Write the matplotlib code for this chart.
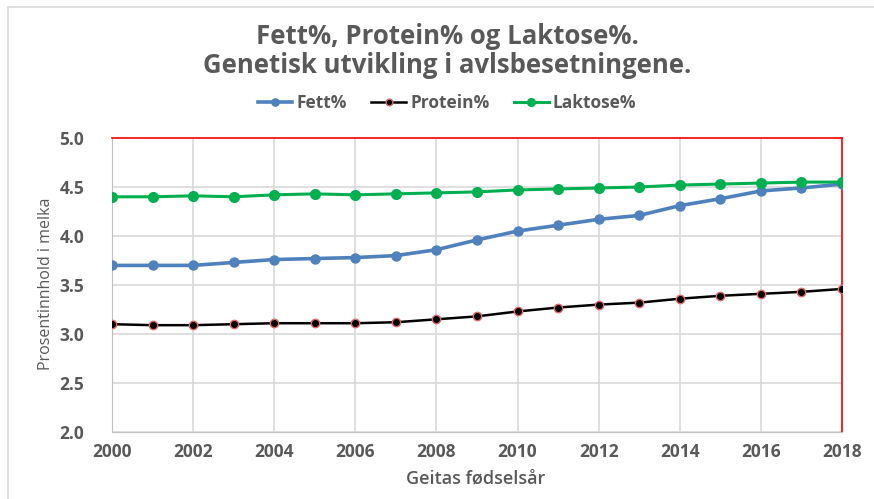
import matplotlib.pyplot as plt
from matplotlib.patches import Rectangle

plt.rcParams['font.family'] = ['Open Sans', 'DejaVu Sans']

# Data
years = list(range(2000, 2019))
fett = [3.70, 3.70, 3.70, 3.73, 3.76, 3.77, 3.78, 3.80, 3.86, 3.96,
        4.05, 4.11, 4.17, 4.21, 4.31, 4.38, 4.46, 4.49, 4.53]
protein = [3.10, 3.09, 3.09, 3.10, 3.11, 3.11, 3.11, 3.12, 3.15, 3.18,
           3.23, 3.27, 3.30, 3.32, 3.36, 3.39, 3.41, 3.43, 3.46]
laktose = [4.40, 4.40, 4.41, 4.40, 4.42, 4.43, 4.42, 4.43, 4.44, 4.45,
           4.47, 4.48, 4.49, 4.50, 4.52, 4.53, 4.54, 4.55, 4.55]
xticks = list(range(2000, 2019, 2))
yticks = [2.0, 2.5, 3.0, 3.5, 4.0, 4.5, 5.0]

grey_txt = '#595959'

fig = plt.figure(figsize=(8.74, 4.99), dpi=100)
ax = fig.add_axes([112 / 874, 67 / 499, 730 / 874, 294 / 499])

# light chart frame
fig.patches.append(Rectangle((8 / 874, -0.1), 1.2, (499 - 7) / 499 + 0.1,
                             transform=fig.transFigure, fill=False,
                             edgecolor='#D9D9D9', linewidth=1.2))

ax.plot(years, fett, '-o', color='#4F81BD', linewidth=2.6, markersize=6.5,
        label='Fett%', zorder=3)
ax.plot(years, protein, '-o', color='black', linewidth=1.8, markersize=6,
        markerfacecolor='black', markeredgecolor='#E06666', markeredgewidth=1.0,
        label='Protein%', zorder=4)
ax.plot(years, laktose, '-o', color='#00B050', linewidth=2.2, markersize=7,
        label='Laktose%', zorder=3)

ax.set_xlim(2000, 2018)
ax.set_ylim(2.0, 5.0)
ax.set_xticks(xticks)
ax.set_yticks(yticks)
ax.set_yticklabels([f'{v:.1f}' for v in yticks])
ax.grid(True, color='#D9D9D9', linewidth=1.2)
ax.set_axisbelow(True)
ax.tick_params(axis='x', length=0, pad=8, labelsize=12.5, labelcolor=grey_txt)
ax.tick_params(axis='y', length=0, pad=20, labelsize=12.5, labelcolor=grey_txt)
for lab in ax.get_xticklabels() + ax.get_yticklabels():
    lab.set_fontweight('bold')

ax.spines['top'].set_color('red')
ax.spines['right'].set_color('red')
ax.spines['top'].set_linewidth(1.2)
ax.spines['right'].set_linewidth(1.2)
ax.spines['left'].set_color('#BFBFBF')
ax.spines['bottom'].set_color('#BFBFBF')

fig.text(447 / 874, 1 - 51 / 499,
         'Fett%, Protein% og Laktose%.\nGenetisk utvikling i avlsbesetningene.',
         ha='center', va='center', fontsize=18.5, fontweight='bold',
         color=grey_txt, linespacing=1.12)

ax.legend(loc='center', bbox_to_anchor=(447 / 874, 1 - 103 / 499),
          bbox_transform=fig.transFigure, ncol=3, frameon=False,
          prop={'weight': 'bold', 'size': 12.5}, labelcolor=grey_txt,
          handlelength=2.0, columnspacing=1.4, handletextpad=0.25,
          markerscale=0.8)

fig.text(46 / 874, 1 - 284 / 499, 'Prosentinnhold i melka', rotation=90,
         ha='center', va='center', fontsize=11.5, color=grey_txt)
fig.text(476 / 874, 1 - 479 / 499, 'Geitas fødselsår', ha='center',
         va='center', fontsize=13, color=grey_txt, fontweight='semibold')

fig.savefig('out.png', dpi=100)
